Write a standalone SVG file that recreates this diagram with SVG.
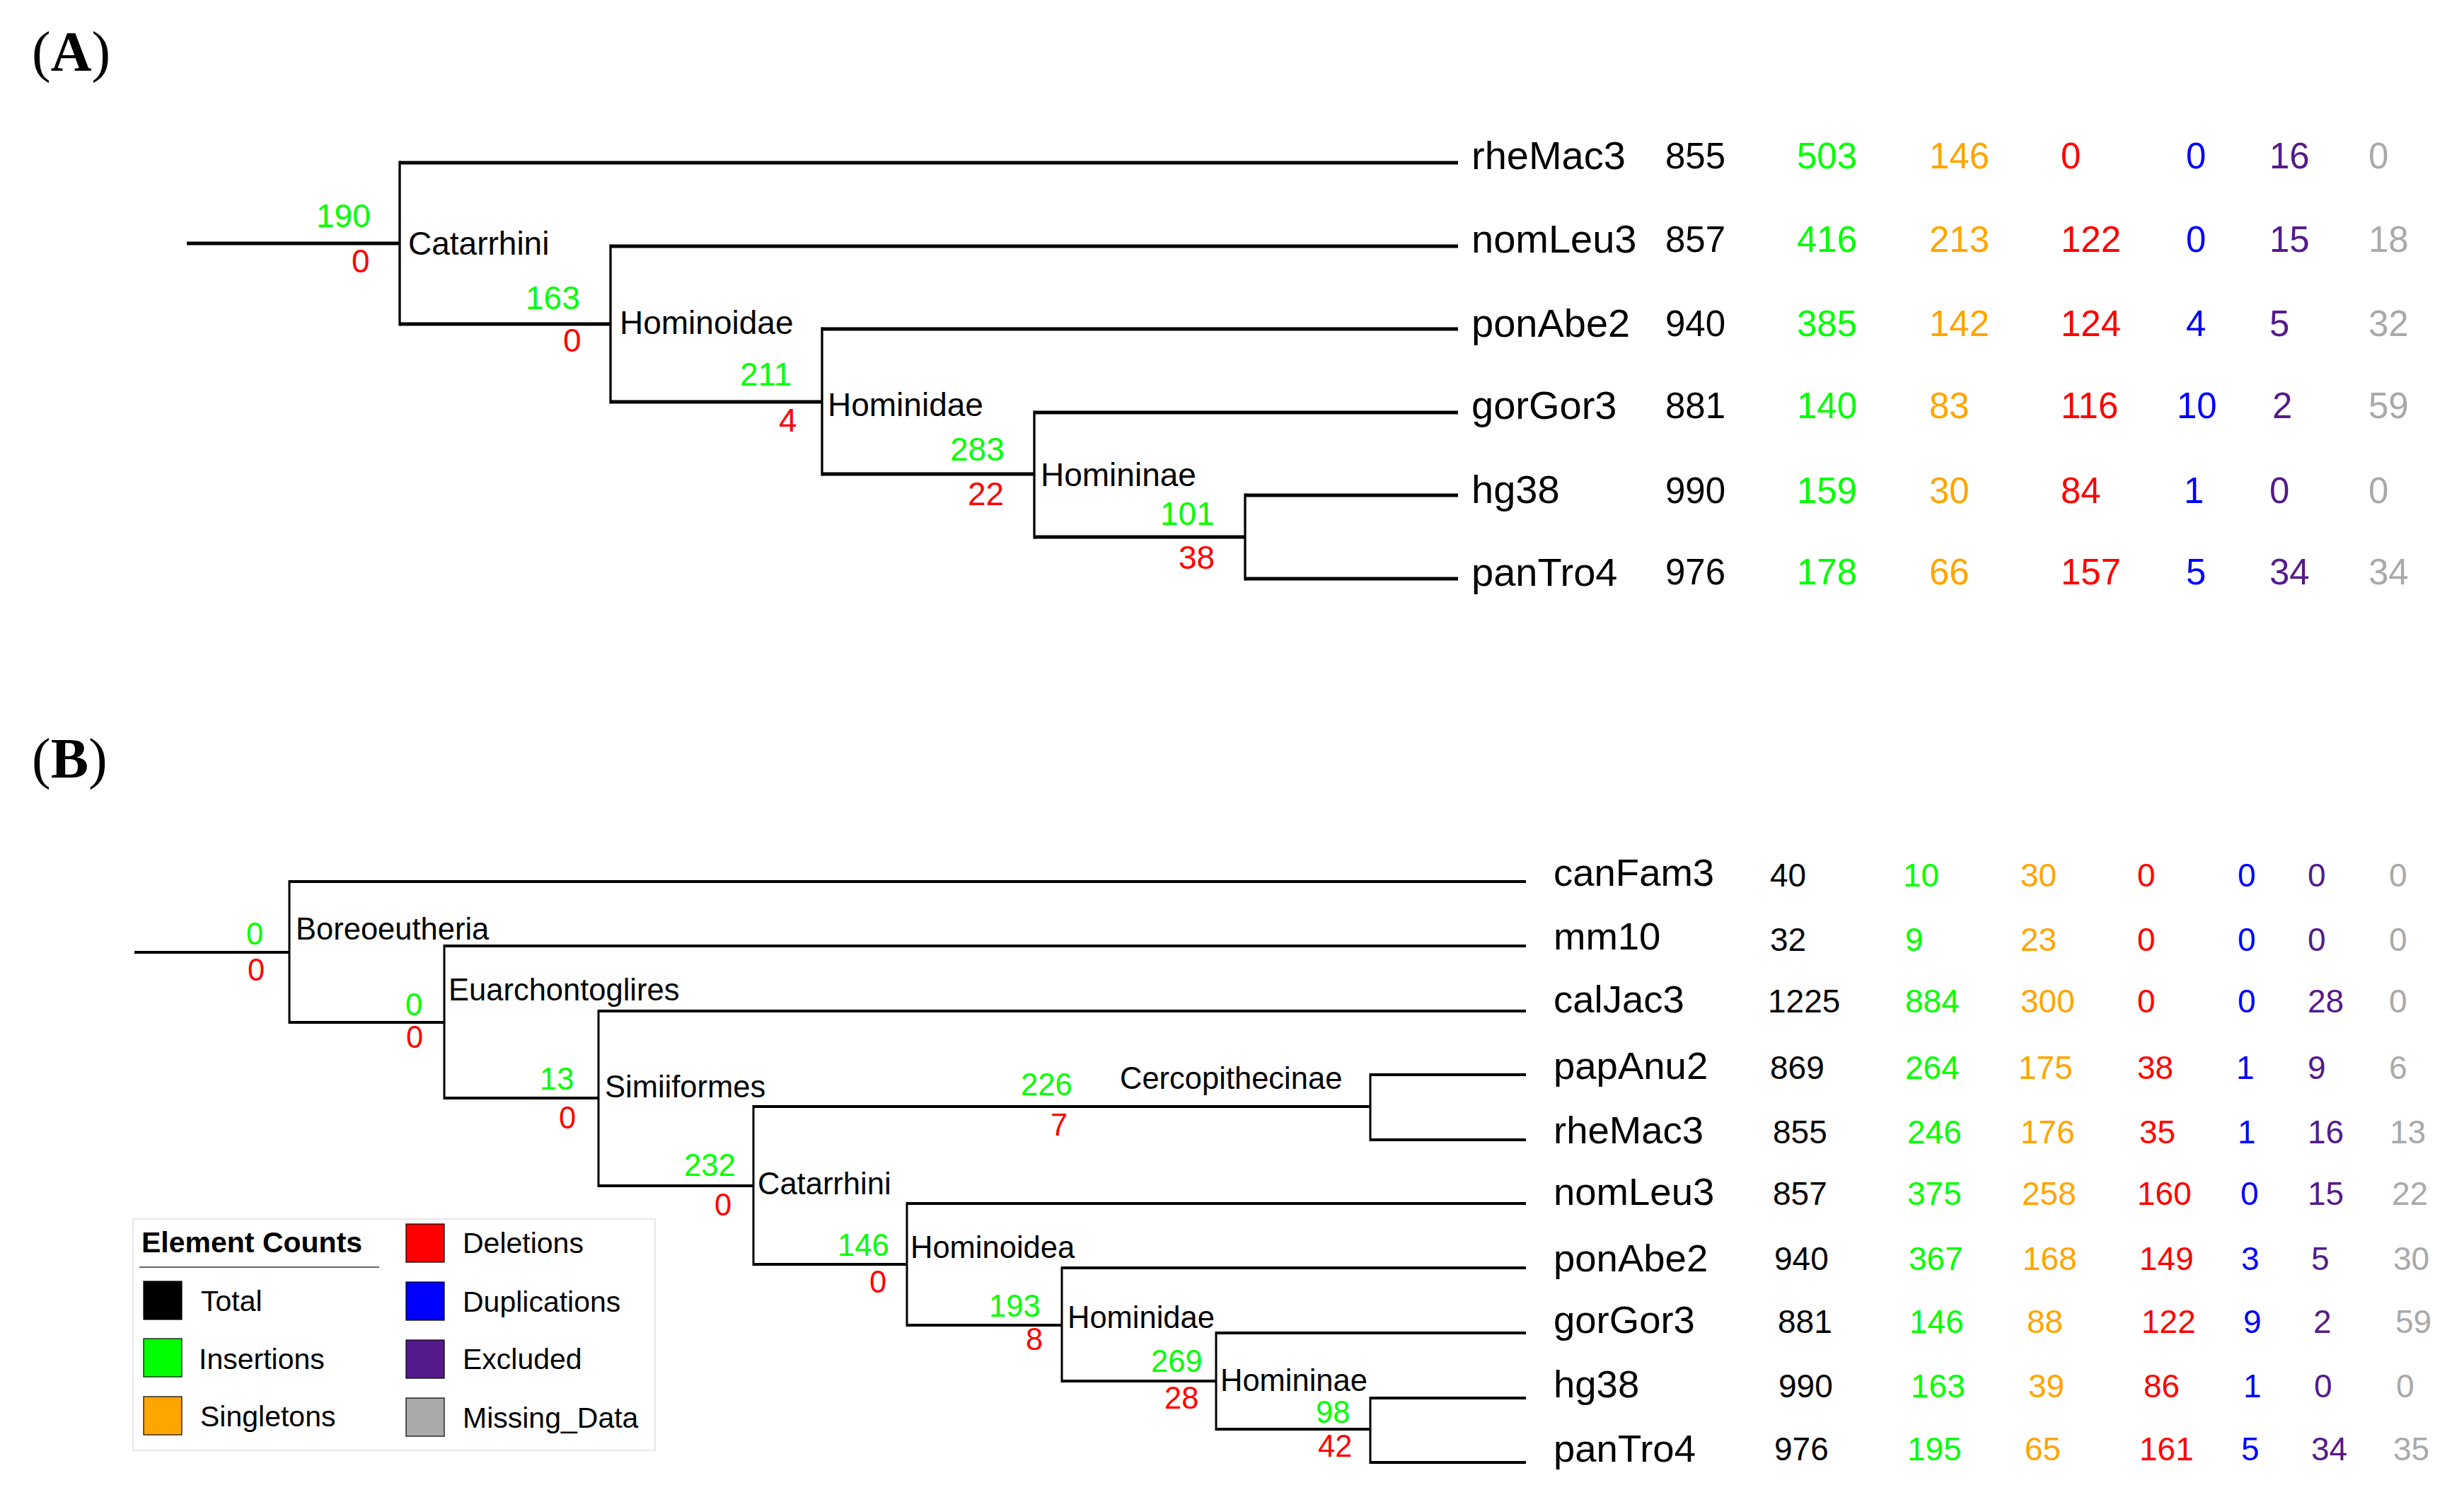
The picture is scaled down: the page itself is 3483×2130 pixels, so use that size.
<svg xmlns="http://www.w3.org/2000/svg" width="3483" height="2130" viewBox="0 0 3483 2130">
<style>
text{font-family:"Liberation Sans",Arial,sans-serif;fill:#000}
.pl{font-family:"Liberation Serif","Times New Roman",serif;font-size:80px}
.na{font-size:46px}
.nb{font-size:43.5px}
.ta{font-size:56px}
.va{font-size:51px}
.tb{font-size:54.5px}
.vb{font-size:46px}
.lg{font-size:41px}
.g{fill:#00ff00}.o{fill:#ffa500}.r{fill:#ff0000}.b{fill:#0000ff}.p{fill:#551a8b}.m{fill:#a9a9a9}
.hA{stroke:#000;stroke-width:5;fill:none}
.vA{stroke:#000;stroke-width:3.3;fill:none}
.hB{stroke:#000;stroke-width:4;fill:none}
.vB{stroke:#000;stroke-width:3;fill:none}
.sw{stroke:#000;stroke-width:1.2}
</style>
<rect width="3483" height="2130" fill="#fff"/>
<text class="pl" x="45" y="100">(<tspan font-weight="bold">A</tspan>)</text>
<text class="pl" x="45" y="1099">(<tspan font-weight="bold">B</tspan>)</text>

<g id="connectors">
<path class="hA" d="M264 344H565M565 230H2061M565 458H863M863 348H2061M863 568H1162M1162 465H2061M1162 670H1462M1462 583H2061M1462 759H1760M1760 700H2061M1760 818H2061"/>
<path class="vA" d="M565 227.5V460.5M863 345.5V570.5M1162 462.5V672.5M1462 580.5V761.5M1760 697.5V820.5"/>
<path class="hB" d="M190 1346H409M409 1246H2157M409 1445H628M628 1337H2157M628 1552H846M846 1429H2157M846 1676H1065M1065 1564H1937M1937 1519H2157M1937 1611H2157M1065 1787H1282M1282 1701H2157M1282 1873H1501M1501 1792H2157M1501 1952H1719M1719 1884H2157M1719 2020H1937M1937 1976H2157M1937 2067H2157"/>
<path class="vB" d="M409 1244V1447M628 1335V1554M846 1427V1678M1065 1562V1789M1937 1517V1613M1282 1699V1875M1501 1790V1954M1719 1882V2022M1937 1974V2069"/>
</g>

<!-- Panel A internal nodes -->
<g id="A-root"><text class="na g" x="447" y="321">190</text><text class="na r" x="497" y="385">0</text></g>
<g id="A-Catarrhini"><text class="na" x="577" y="360">Catarrhini</text><text class="na g" x="743" y="437">163</text><text class="na r" x="796" y="497">0</text></g>
<g id="A-Hominoidae"><text class="na" x="876" y="472">Hominoidae</text><text class="na g" x="1046" y="545">211</text><text class="na r" x="1101" y="610">4</text></g>
<g id="A-Hominidae"><text class="na" x="1170" y="588">Hominidae</text><text class="na g" x="1343" y="651">283</text><text class="na r" x="1368" y="714">22</text></g>
<g id="A-Homininae"><text class="na" x="1471" y="687">Homininae</text><text class="na g" x="1640" y="742">101</text><text class="na r" x="1666" y="804">38</text></g>

<!-- Panel A tips -->
<g id="A-rheMac3"><text class="ta" x="2080" y="239">rheMac3</text><text class="va" x="2354" y="238">855</text><text class="va g" x="2540" y="238">503</text><text class="va o" x="2727" y="238">146</text><text class="va r" x="2913" y="238">0</text><text class="va b" x="3090" y="238">0</text><text class="va p" x="3208" y="238">16</text><text class="va m" x="3348" y="238">0</text></g>
<g id="A-nomLeu3"><text class="ta" x="2080" y="357">nomLeu3</text><text class="va" x="2354" y="356">857</text><text class="va g" x="2540" y="356">416</text><text class="va o" x="2727" y="356">213</text><text class="va r" x="2913" y="356">122</text><text class="va b" x="3090" y="356">0</text><text class="va p" x="3208" y="356">15</text><text class="va m" x="3348" y="356">18</text></g>
<g id="A-ponAbe2"><text class="ta" x="2080" y="476">ponAbe2</text><text class="va" x="2354" y="475">940</text><text class="va g" x="2540" y="475">385</text><text class="va o" x="2727" y="475">142</text><text class="va r" x="2913" y="475">124</text><text class="va b" x="3090" y="475">4</text><text class="va p" x="3208" y="475">5</text><text class="va m" x="3348" y="475">32</text></g>
<g id="A-gorGor3"><text class="ta" x="2080" y="592">gorGor3</text><text class="va" x="2354" y="591">881</text><text class="va g" x="2540" y="591">140</text><text class="va o" x="2727" y="591">83</text><text class="va r" x="2913" y="591">116</text><text class="va b" x="3077" y="591">10</text><text class="va p" x="3212" y="591">2</text><text class="va m" x="3348" y="591">59</text></g>
<g id="A-hg38"><text class="ta" x="2080" y="711">hg38</text><text class="va" x="2354" y="711">990</text><text class="va g" x="2540" y="711">159</text><text class="va o" x="2727" y="711">30</text><text class="va r" x="2913" y="711">84</text><text class="va b" x="3087" y="711">1</text><text class="va p" x="3208" y="711">0</text><text class="va m" x="3348" y="711">0</text></g>
<g id="A-panTro4"><text class="ta" x="2080" y="828">panTro4</text><text class="va" x="2354" y="826">976</text><text class="va g" x="2540" y="826">178</text><text class="va o" x="2727" y="826">66</text><text class="va r" x="2913" y="826">157</text><text class="va b" x="3090" y="826">5</text><text class="va p" x="3208" y="826">34</text><text class="va m" x="3348" y="826">34</text></g>

<!-- Panel B internal nodes -->
<g id="B-root"><text class="nb g" x="348" y="1335">0</text><text class="nb r" x="350" y="1386">0</text></g>
<g id="B-Boreoeutheria"><text class="nb" x="418" y="1328">Boreoeutheria</text><text class="nb g" x="573" y="1435">0</text><text class="nb r" x="574" y="1481">0</text></g>
<g id="B-Euarchontoglires"><text class="nb" x="634" y="1414">Euarchontoglires</text><text class="nb g" x="763" y="1540">13</text><text class="nb r" x="790" y="1595">0</text></g>
<g id="B-Simiiformes"><text class="nb" x="855" y="1551">Simiiformes</text><text class="nb g" x="967" y="1662">232</text><text class="nb r" x="1010" y="1718">0</text></g>
<g id="B-Catarrhini"><text class="nb" x="1071" y="1688">Catarrhini</text><text class="nb g" x="1443" y="1548">226</text><text class="nb r" x="1485" y="1605">7</text><text class="nb g" x="1184" y="1775">146</text><text class="nb r" x="1229" y="1827">0</text></g>
<g id="B-Cercopithecinae"><text class="nb" x="1583" y="1539">Cercopithecinae</text></g>
<g id="B-Hominoidea"><text class="nb" x="1287" y="1778">Hominoidea</text><text class="nb g" x="1398" y="1861">193</text><text class="nb r" x="1450" y="1908">8</text></g>
<g id="B-Hominidae"><text class="nb" x="1509" y="1877">Hominidae</text><text class="nb g" x="1627" y="1939">269</text><text class="nb r" x="1646" y="1991">28</text></g>
<g id="B-Homininae"><text class="nb" x="1725" y="1966">Homininae</text><text class="nb g" x="1860" y="2011">98</text><text class="nb r" x="1863" y="2059">42</text></g>

<!-- Panel B tips -->
<g id="B-canFam3"><text class="tb" x="2196" y="1252">canFam3</text><text class="vb" x="2502" y="1253">40</text><text class="vb g" x="2690" y="1253">10</text><text class="vb o" x="2856" y="1253">30</text><text class="vb r" x="3021" y="1253">0</text><text class="vb b" x="3163" y="1253">0</text><text class="vb p" x="3262" y="1253">0</text><text class="vb m" x="3377" y="1253">0</text></g>
<g id="B-mm10"><text class="tb" x="2196" y="1342">mm10</text><text class="vb" x="2502" y="1344">32</text><text class="vb g" x="2693" y="1344">9</text><text class="vb o" x="2856" y="1344">23</text><text class="vb r" x="3021" y="1344">0</text><text class="vb b" x="3163" y="1344">0</text><text class="vb p" x="3262" y="1344">0</text><text class="vb m" x="3377" y="1344">0</text></g>
<g id="B-calJac3"><text class="tb" x="2196" y="1431">calJac3</text><text class="vb" x="2499" y="1431">1225</text><text class="vb g" x="2693" y="1431">884</text><text class="vb o" x="2856" y="1431">300</text><text class="vb r" x="3021" y="1431">0</text><text class="vb b" x="3163" y="1431">0</text><text class="vb p" x="3262" y="1431">28</text><text class="vb m" x="3377" y="1431">0</text></g>
<g id="B-papAnu2"><text class="tb" x="2196" y="1525">papAnu2</text><text class="vb" x="2502" y="1525">869</text><text class="vb g" x="2693" y="1525">264</text><text class="vb o" x="2853" y="1525">175</text><text class="vb r" x="3021" y="1525">38</text><text class="vb b" x="3161" y="1525">1</text><text class="vb p" x="3262" y="1525">9</text><text class="vb m" x="3377" y="1525">6</text></g>
<g id="B-rheMac3"><text class="tb" x="2196" y="1616">rheMac3</text><text class="vb" x="2506" y="1616">855</text><text class="vb g" x="2696" y="1616">246</text><text class="vb o" x="2856" y="1616">176</text><text class="vb r" x="3024" y="1616">35</text><text class="vb b" x="3163" y="1616">1</text><text class="vb p" x="3262" y="1616">16</text><text class="vb m" x="3378" y="1616">13</text></g>
<g id="B-nomLeu3"><text class="tb" x="2196" y="1703">nomLeu3</text><text class="vb" x="2506" y="1703">857</text><text class="vb g" x="2696" y="1703">375</text><text class="vb o" x="2858" y="1703">258</text><text class="vb r" x="3021" y="1703">160</text><text class="vb b" x="3167" y="1703">0</text><text class="vb p" x="3262" y="1703">15</text><text class="vb m" x="3381" y="1703">22</text></g>
<g id="B-ponAbe2"><text class="tb" x="2196" y="1797">ponAbe2</text><text class="vb" x="2508" y="1795">940</text><text class="vb g" x="2698" y="1795">367</text><text class="vb o" x="2859" y="1795">168</text><text class="vb r" x="3024" y="1795">149</text><text class="vb b" x="3168" y="1795">3</text><text class="vb p" x="3267" y="1795">5</text><text class="vb m" x="3383" y="1795">30</text></g>
<g id="B-gorGor3"><text class="tb" x="2196" y="1884">gorGor3</text><text class="vb" x="2513" y="1884">881</text><text class="vb g" x="2699" y="1884">146</text><text class="vb o" x="2865" y="1884">88</text><text class="vb r" x="3027" y="1884">122</text><text class="vb b" x="3171" y="1884">9</text><text class="vb p" x="3270" y="1884">2</text><text class="vb m" x="3386" y="1884">59</text></g>
<g id="B-hg38"><text class="tb" x="2196" y="1975">hg38</text><text class="vb" x="2514" y="1975">990</text><text class="vb g" x="2701" y="1975">163</text><text class="vb o" x="2867" y="1975">39</text><text class="vb r" x="3030" y="1975">86</text><text class="vb b" x="3171" y="1975">1</text><text class="vb p" x="3271" y="1975">0</text><text class="vb m" x="3387" y="1975">0</text></g>
<g id="B-panTro4"><text class="tb" x="2196" y="2066">panTro4</text><text class="vb" x="2508" y="2064">976</text><text class="vb g" x="2696" y="2064">195</text><text class="vb o" x="2862" y="2064">65</text><text class="vb r" x="3024" y="2064">161</text><text class="vb b" x="3168" y="2064">5</text><text class="vb p" x="3267" y="2064">34</text><text class="vb m" x="3383" y="2064">35</text></g>

<!-- Legend -->
<g id="legend">
<rect x="188" y="1723" width="738" height="327" fill="#fff" stroke="#e8e8e8" stroke-width="2"/>
<text class="lg" x="200" y="1770" font-weight="bold">Element Counts</text>
<line x1="197" y1="1791" x2="536" y2="1791" stroke="#333" stroke-width="1.5"/>
<rect class="sw" x="203" y="1811" width="54" height="54" fill="#000"/>
<rect class="sw" x="203" y="1892" width="54" height="54" fill="#00ff00"/>
<rect class="sw" x="203" y="1974" width="54" height="54" fill="#ffa500"/>
<rect class="sw" x="574" y="1730" width="54" height="54" fill="#ff0000"/>
<rect class="sw" x="574" y="1812" width="54" height="54" fill="#0000ff"/>
<rect class="sw" x="574" y="1894" width="54" height="54" fill="#551a8b"/>
<rect class="sw" x="574" y="1976" width="54" height="54" fill="#aaaaaa"/>
<text class="lg" x="284" y="1853">Total</text>
<text class="lg" x="281" y="1935">Insertions</text>
<text class="lg" x="283" y="2016">Singletons</text>
<text class="lg" x="654" y="1771">Deletions</text>
<text class="lg" x="654" y="1854">Duplications</text>
<text class="lg" x="654" y="1935">Excluded</text>
<text class="lg" x="654" y="2018">Missing_Data</text>
</g>
</svg>
